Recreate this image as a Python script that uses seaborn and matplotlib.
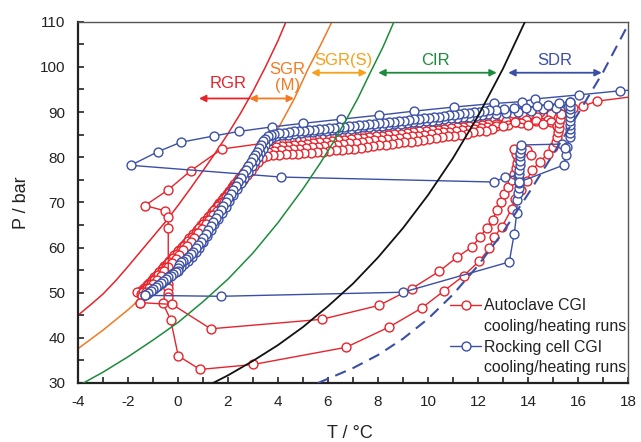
import numpy as np
import pandas as pd
import matplotlib
matplotlib.use("Agg")
import matplotlib.pyplot as plt
import seaborn as sns
from matplotlib.lines import Line2D
from matplotlib.ticker import MultipleLocator

# ---------------- equilibrium / boundary curves ----------------
red_eq_T = [-4.0, -3.5, -3.0, -2.5, -2.0, -1.5, -1.0, -0.5, 0.0, 0.5, 1.0, 1.5, 2.0, 2.5, 3.0, 3.5, 4.0, 4.32]
red_eq_P = [45.0, 47.3, 49.7, 52.6, 55.8, 59.1, 62.4, 65.7, 69.3, 73.1, 77.0, 81.0, 85.2, 89.7, 94.6, 100.0, 105.8, 110.0]

orange_eq_T = [-4.0, -3.0, -2.0, -1.0, 0.0, 1.0, 2.0, 3.0, 4.0, 4.64, 5.2, 5.7, 6.16]
orange_eq_P = [37.6, 41.7, 46.2, 51.3, 56.9, 63.2, 70.1, 77.8, 86.3, 92.8, 99.5, 104.8, 110.0]

green_eq_T = [-3.85, -3.0, -2.0, -1.0, 0.0, 1.0, 2.0, 3.0, 4.0, 5.0, 5.68, 6.2, 6.68, 7.2, 7.68, 8.2, 8.64]
green_eq_P = [29.8, 32.4, 35.8, 39.5, 43.4, 48.0, 53.0, 58.8, 65.5, 73.0, 78.6, 83.2, 87.8, 93.1, 98.6, 104.4, 110.0]

black_eq_T = [1.4, 2.0, 3.0, 4.0, 5.0, 6.0, 7.0, 8.0, 9.0, 10.0, 11.0, 12.0, 13.0, 13.88]
black_eq_P = [30.0, 31.7, 34.9, 38.4, 42.4, 47.0, 52.0, 57.8, 64.3, 71.6, 79.8, 89.1, 99.6, 110.0]

dashed_T = [5.6, 7.0, 8.0, 9.0, 10.0, 11.0, 12.0, 13.0, 14.0, 15.0, 16.0, 17.0, 18.0]
dashed_P = [30.0, 33.3, 36.2, 39.8, 44.2, 49.6, 56.0, 63.4, 71.8, 80.6, 89.6, 98.8, 109.3]

# ---------------- Autoclave CGI runs (red) ----------------
r1_T = [15.25, 14.9, 14.48, 14.08, 13.75, 13.41, 12.95, 12.6,
        12.3, 12.1, 11.9, 11.7, 11.5, 11.3, 11.1, 10.9, 10.7, 10.5, 10.3, 10.1, 9.9, 9.7, 9.5, 9.3, 9.1,
        8.9, 8.7, 8.5, 8.3, 8.1, 7.9, 7.7, 7.5, 7.3, 7.1, 6.9, 6.7, 6.5, 6.3, 6.1, 5.9, 5.7, 5.5, 5.3,
        5.1, 4.9, 4.7, 4.5, 4.3, 4.1, 3.9, 3.7, 3.55,
        3.45, 3.35, 3.25, 3.15, 3.05, 2.95, 2.85, 2.75, 2.65, 2.55, 2.45, 2.35, 2.25, 2.15, 2.05, 1.95,
        1.85, 1.75, 1.65, 1.55, 1.45, 1.35, 1.25, 1.15, 1.05, 0.95, 0.85, 0.75, 0.65, 0.55, 0.45, 0.35,
        0.25, 0.15, 0.05, -0.05, -0.15, -0.25, -0.35, -0.45, -0.55, -0.65, -0.75, -0.85, -0.95, -1.05,
        -1.15, -1.25, -1.35, -1.45, -1.55, -1.65]
r1_P = [89.8, 89.5, 90.0, 89.4, 89.6, 89.7, 89.1, 88.9,
        88.7, 88.6, 88.5, 88.3, 88.2, 88.1, 87.9, 87.8, 87.7, 87.5, 87.4, 87.3, 87.1, 87.0, 86.9, 86.8, 86.6,
        86.5, 86.4, 86.2, 86.1, 86.0, 85.8, 85.7, 85.6, 85.5, 85.3, 85.2, 85.1, 84.9, 84.8, 84.7, 84.6, 84.4, 84.3, 84.2,
        84.0, 83.9, 83.8, 83.7, 83.5, 83.4, 83.2, 83.0, 82.7,
        82.3, 81.7, 81.0, 80.3, 79.6, 78.9, 78.2, 77.5, 76.8, 76.1, 75.4, 74.7, 74.0, 73.3, 72.6, 71.9,
        71.2, 70.5, 69.8, 69.1, 68.4, 67.7, 67.0, 66.3, 65.7, 65.0, 64.4, 63.7, 63.1, 62.4, 61.8, 61.2,
        60.6, 60.0, 59.4, 58.8, 58.2, 57.6, 57.0, 56.4, 55.8, 55.2, 54.6, 54.0, 53.4, 52.8,
        52.2, 51.6, 51.0, 50.5, 50.2, 50.1]

r2_T = [15.2, 14.8, 14.35, 13.9, 13.5, 13.1, 12.7,
        12.4, 12.15, 11.9, 11.65, 11.4, 11.15, 10.9, 10.65, 10.4, 10.15, 9.9, 9.65, 9.4, 9.15, 8.9, 8.65,
        8.4, 8.15, 7.9, 7.65, 7.4, 7.15, 6.9, 6.65, 6.4, 6.15, 5.9, 5.65, 5.4, 5.15, 4.9, 4.65, 4.4, 4.15,
        3.9, 3.65, 3.45,
        3.3, 3.15, 3.0, 2.85, 2.7, 2.55, 2.4, 2.25, 2.1, 1.95, 1.8, 1.65, 1.5, 1.35, 1.2, 1.05, 0.9, 0.75,
        0.6, 0.45, 0.3, 0.15, 0.0, -0.15, -0.3, -0.45, -0.6, -0.75, -0.9, -1.05, -1.2, -1.35, -1.5]
r2_P = [88.6, 88.3, 88.9, 88.2, 87.8, 88.0, 87.4,
        87.3, 87.2, 87.0, 86.9, 86.7, 86.6, 86.4, 86.3, 86.1, 86.0, 85.8, 85.7, 85.5, 85.4, 85.2, 85.1,
        84.9, 84.8, 84.6, 84.5, 84.3, 84.2, 84.0, 83.9, 83.7, 83.6, 83.4, 83.3, 83.1, 83.0, 82.8, 82.7, 82.5, 82.4,
        82.2, 81.9, 81.5,
        80.7, 79.7, 78.7, 77.7, 76.7, 75.7, 74.7, 73.7, 72.7, 71.7, 70.7, 69.7, 68.7, 67.8, 66.8, 65.8, 64.9, 63.9,
        63.0, 62.0, 61.1, 60.1, 59.2, 58.3, 57.3, 56.4, 55.4, 54.5, 53.5, 52.6, 51.6, 50.7, 49.8]

r4_T = [14.9, 14.3, 13.7, 13.2, 12.7,
        12.35, 12.1, 11.85, 11.6, 11.35, 11.1, 10.85, 10.6, 10.35, 10.1, 9.85, 9.6, 9.35, 9.1, 8.85, 8.6,
        8.35, 8.1, 7.85, 7.6, 7.35, 7.1, 6.85, 6.6, 6.35, 6.1, 5.85, 5.6, 5.35, 5.1, 4.85, 4.6, 4.35, 4.1,
        3.85, 3.6, 3.4,
        3.25, 3.1, 2.95, 2.8, 2.65, 2.5, 2.35, 2.2, 2.05, 1.9, 1.75, 1.6, 1.45, 1.3, 1.15, 1.0, 0.85, 0.7,
        0.55, 0.4, 0.25, 0.1, -0.05, -0.2, -0.35, -0.5, -0.65, -0.8, -0.95, -1.1, -1.25, -1.4]
r4_P = [87.9, 88.1, 87.6, 87.2, 86.8,
        86.6, 86.5, 86.3, 86.1, 86.0, 85.8, 85.6, 85.5, 85.3, 85.1, 85.0, 84.8, 84.6, 84.5, 84.3, 84.1,
        84.0, 83.8, 83.7, 83.5, 83.4, 83.2, 83.1, 82.9, 82.8, 82.6, 82.5, 82.3, 82.2, 82.1, 81.9, 81.8, 81.7, 81.6,
        81.4, 81.2, 80.8,
        80.0, 79.1, 78.1, 77.1, 76.1, 75.1, 74.1, 73.1, 72.1, 71.1, 70.1, 69.1, 68.2, 67.2, 66.2, 65.2, 64.3, 63.3,
        62.3, 61.4, 60.4, 59.5, 58.5, 57.6, 56.7, 55.7, 54.8, 53.9, 52.9, 52.0, 51.1, 50.2]

r3_T = [15.15, 14.6, 14.0, 13.48, 13.0, 12.55,
        12.3, 12.05, 11.8, 11.55, 11.3, 11.05, 10.8, 10.55, 10.3, 10.05, 9.8, 9.55, 9.3, 9.05, 8.8, 8.55,
        8.3, 8.05, 7.8, 7.55, 7.3, 7.05, 6.8, 6.55, 6.3, 6.05, 5.8, 5.55, 5.3, 5.05, 4.8, 4.55, 4.3, 4.05,
        3.8, 3.55, 3.35,
        3.2, 3.05, 2.9, 2.75, 2.6, 2.45, 2.3, 2.15, 2.0, 1.85, 1.7, 1.55, 1.4, 1.25, 1.1, 0.95, 0.8, 0.65,
        0.5, 0.35, 0.2, 0.05, -0.1, -0.25, -0.4, -0.55, -0.7, -0.85, -1.0, -1.15, -1.3, -1.45, -1.52]
r3_P = [87.0, 87.4, 87.2, 87.8, 86.8, 86.2,
        85.9, 85.7, 85.5, 85.2, 85.0, 84.8, 84.6, 84.4, 84.2, 84.0, 83.8, 83.6, 83.4, 83.3, 83.1, 82.9,
        82.8, 82.6, 82.4, 82.3, 82.1, 81.9, 81.8, 81.6, 81.5, 81.4, 81.2, 81.1, 81.0, 80.9, 80.8, 80.7, 80.6, 80.5,
        80.4, 80.2, 79.8,
        79.0, 78.0, 77.0, 76.0, 75.0, 74.0, 73.0, 72.0, 71.0, 70.0, 69.0, 68.1, 67.1, 66.1, 65.1, 64.2, 63.2, 62.2,
        61.3, 60.3, 59.4, 58.4, 57.5, 56.6, 55.7, 54.7, 53.8, 52.9, 52.0, 51.1, 50.2, 49.3, 47.8]

h1_T = [3.31, 1.75, 0.51, -0.41, -1.32, -0.51, -0.39, -0.39, -0.39, -0.39, -0.39, -0.39, -0.61, -0.29,
        0.01, 0.88, 3.01, 6.72, 8.45, 9.75, 10.64, 11.44, 12.05, 12.45, 12.64, 12.95, 13.35, 13.48, 13.7,
        13.95, 14.15, 14.48, 14.8, 15.0, 15.1, 15.15, 15.2, 15.22, 15.25, 15.28, 15.3, 15.8, 16.2, 16.75, 18.6]
h1_P = [83.0, 81.8, 77.0, 72.7, 69.3, 68.1, 66.8, 64.3, 52.0, 51.0, 50.0, 49.0, 47.8, 43.9,
        36.0, 33.0, 34.1, 37.9, 42.4, 46.6, 50.4, 53.8, 57.0, 59.8, 62.3, 64.5, 68.6, 70.8, 72.8,
        74.8, 77.1, 79.0, 80.8, 82.2, 83.4, 84.5, 85.5, 86.5, 87.5, 88.5, 89.5, 90.8, 91.3, 92.4, 93.7]

h2_T = [-1.52, -0.23, 1.31, 5.75, 8.05, 9.35, 10.44, 11.15, 11.75, 12.08, 12.35, 12.59, 12.75, 12.9,
        13.05, 13.2, 13.35, 13.45, 13.5, 13.55, 13.6, 13.5, 13.45, 13.7, 13.95, 14.1]
h2_P = [47.8, 47.4, 42.0, 44.1, 47.2, 50.9, 54.7, 57.8, 60.1, 62.3, 64.4, 66.2, 68.2, 70.0,
        71.8, 73.5, 75.0, 76.3, 77.5, 78.7, 79.8, 80.8, 81.8, 82.2, 81.6, 80.5]

# ---------------- Rocking cell CGI runs (blue) ----------------
bs_T = [18.5, 17.68, 16.05, 14.28, 13.77, 12.65, 11.04, 9.44, 8.04, 6.5, 5.01, 3.75, 2.43, 1.43, 0.11,
        -0.81, -1.89, 4.12, 12.65, 13.08, 13.6]
bs_P = [95.0, 94.7, 93.8, 92.9, 92.3, 91.9, 91.1, 90.2, 89.3, 88.4, 87.5, 86.7, 85.7, 84.7, 83.3,
        81.2, 78.2, 75.6, 74.5, 75.6, 75.9]

bd1_T = [15.68, 15.25, 14.8, 14.35, 13.9, 13.45, 13.05, 12.7,
         12.45, 12.25, 12.05, 11.85, 11.65, 11.45, 11.25, 11.05, 10.85, 10.65, 10.45, 10.25, 10.05, 9.85,
         9.65, 9.45, 9.25, 9.05, 8.85, 8.65, 8.45, 8.25, 8.05, 7.85, 7.65, 7.45, 7.25, 7.05, 6.85, 6.65,
         6.45, 6.25, 6.05, 5.85, 5.65, 5.45, 5.25, 5.05, 4.85, 4.65, 4.45, 4.25, 4.05, 3.85, 3.7,
         3.58, 3.48, 3.4, 3.32, 3.24, 3.16, 3.08, 3.0,
         2.9, 2.8, 2.7, 2.6, 2.5, 2.4, 2.3, 2.2, 2.1, 2.0, 1.9, 1.8, 1.7, 1.6, 1.5, 1.4, 1.3, 1.2, 1.1, 1.0,
         0.9, 0.8, 0.7, 0.6, 0.5, 0.4, 0.3, 0.2, 0.1, 0.02, 0.0, -0.02, -0.1, -0.2, -0.3, -0.4, -0.5, -0.6,
         -0.7, -0.8, -0.9, -1.0, -1.1, -1.2, -1.32]
bd1_P = [92.3, 91.9, 91.6, 91.3, 91.0, 90.8, 90.6, 90.5,
         90.4, 90.3, 90.1, 90.0, 89.8, 89.7, 89.5, 89.4, 89.3, 89.1, 89.0, 88.9, 88.7, 88.6,
         88.5, 88.4, 88.2, 88.1, 88.0, 87.9, 87.8, 87.6, 87.5, 87.4, 87.3, 87.2, 87.1, 86.9, 86.8, 86.7,
         86.6, 86.5, 86.4, 86.3, 86.2, 86.1, 86.0, 85.9, 85.8, 85.7, 85.6, 85.4, 85.3, 85.1, 84.9,
         84.6, 84.1, 83.5, 82.8, 82.0, 81.2, 80.5, 79.8,
         79.0, 78.1, 77.2, 76.3, 75.4, 74.6, 73.7, 72.8, 71.9, 71.0, 70.1, 69.2, 68.3, 67.4, 66.5, 65.6, 64.7, 63.8, 62.9, 62.1,
         61.3, 60.5, 59.8, 59.1, 58.5, 57.9, 57.4, 57.0, 56.7, 56.2, 55.5, 54.9, 54.6, 54.2, 53.8, 53.4, 53.0, 52.5,
         52.1, 51.6, 51.2, 50.8, 50.3, 49.9, 49.4]

bd2_T = [15.6, 15.1, 14.6, 14.1, 13.6, 13.1, 12.7,
         12.4, 12.15, 11.9, 11.65, 11.4, 11.15, 10.9, 10.65, 10.4, 10.15, 9.9, 9.65, 9.4, 9.15, 8.9, 8.65,
         8.4, 8.15, 7.9, 7.65, 7.4, 7.15, 6.9, 6.65, 6.4, 6.15, 5.9, 5.65, 5.4, 5.15, 4.9, 4.65, 4.4, 4.15,
         3.9, 3.7,
         3.58, 3.48, 3.38, 3.28, 3.18, 3.08, 2.95, 2.8, 2.65, 2.5, 2.35, 2.2, 2.05, 1.9, 1.75, 1.6, 1.45,
         1.3, 1.15, 1.0, 0.85, 0.7, 0.55, 0.4, 0.25, 0.1, -0.05, -0.2, -0.35, -0.5, -0.65, -0.8, -0.95,
         -1.1, -1.25]
bd2_P = [91.2, 90.9, 90.6, 90.3, 90.0, 89.8, 89.6,
         89.5, 89.3, 89.2, 89.0, 88.9, 88.7, 88.6, 88.4, 88.3, 88.1, 88.0, 87.8, 87.7, 87.6, 87.4, 87.3,
         87.1, 87.0, 86.9, 86.7, 86.6, 86.5, 86.3, 86.2, 86.1, 86.0, 85.8, 85.7, 85.6, 85.5, 85.3, 85.2, 85.0, 84.9,
         84.6, 84.2,
         83.5, 82.7, 81.8, 80.9, 80.0, 79.2, 78.1, 76.8, 75.5, 74.2, 72.9, 71.6, 70.3, 69.0, 67.7, 66.4, 65.1,
         63.8, 62.5, 61.2, 60.0, 58.9, 57.9, 57.0, 56.3, 55.7, 55.0, 54.3, 53.6, 52.9, 52.2, 51.5, 50.9,
         50.3, 49.7]

bh_T = [-1.32, 1.7, 9.0, 13.25, 13.45, 13.55, 13.57, 13.6, 13.62, 13.63, 13.64, 13.65, 13.65, 13.66,
        13.67, 13.68, 13.69, 13.7, 13.72, 15.35, 15.55, 15.68, 15.68, 15.68, 15.68, 15.68, 15.68, 15.68,
        15.68, 15.68, 15.68]
bh_P = [49.4, 49.2, 50.1, 56.8, 63.1, 67.6, 70.5, 72.0, 73.2, 74.2, 75.2, 76.2, 77.2, 78.2,
        79.2, 80.2, 81.0, 81.8, 82.7, 82.9, 82.3, 84.5, 85.4, 86.3, 87.2, 88.1, 89.0, 89.8,
        90.6, 91.4, 92.2]

bx_T = [13.65, 15.45, 15.5, 15.48]
bx_P = [74.5, 78.3, 80.4, 82.0]

# ---------------- annotation labels ----------------
region_labels = ["RGR", "SGR\n(M)", "SGR(S)", "CIR", "SDR"]
legend_labels = ["Autoclave CGI", "cooling/heating runs", "Rocking cell CGI", "cooling/heating runs"]

RED = "#E8232B"
ORANGE = "#F47920"
AMBER = "#F7A11A"
GREEN = "#1C8C3C"
BLUE = "#3B4FA6"
BLACK = "#111111"

sns.set_style("ticks")
plt.rcParams['font.family'] = ['Liberation Sans', 'DejaVu Sans']
plt.rcParams['axes.unicode_minus'] = False

fig = plt.figure(figsize=(6.41, 4.42), dpi=100)
ax = fig.add_axes([78 / 641, 1 - 383 / 442, 550 / 641, 361.3 / 442])


def curve(T, P, color, lw=1.1, z=1, **kw):
    df = pd.DataFrame({"T": T, "P": P})
    sns.lineplot(data=df, x="T", y="P", sort=False, estimator=None, color=color,
                 lw=lw, zorder=z, ax=ax, legend=False, **kw)


def run(T, P, color, z):
    df = pd.DataFrame({"T": T, "P": P})
    sns.lineplot(data=df, x="T", y="P", sort=False, estimator=None, color=color, lw=1.0,
                 marker="o", markersize=6.4, markerfacecolor="white", markeredgecolor=color,
                 markeredgewidth=1.0, zorder=z, ax=ax, legend=False)


curve(red_eq_T, red_eq_P, RED, z=1)
curve(orange_eq_T, orange_eq_P, ORANGE, z=1)

for T, P in [(r1_T, r1_P), (r2_T, r2_P), (r4_T, r4_P), (r3_T, r3_P), (h1_T, h1_P), (h2_T, h2_P)]:
    run(T, P, RED, 2)
for T, P in [(bs_T, bs_P), (bd2_T, bd2_P), (bd1_T, bd1_P), (bh_T, bh_P), (bx_T, bx_P)]:
    run(T, P, BLUE, 3)

curve(green_eq_T, green_eq_P, GREEN, z=4)
curve(black_eq_T, black_eq_P, BLACK, lw=1.3, z=4)
curve(dashed_T, dashed_P, BLUE, lw=1.5, z=4, linestyle=(0, (5.5, 3.5)))

# region annotations
fs = 12
ax.text(1.99, 96.3, region_labels[0], color=RED, fontsize=fs, ha="center", va="center")
ax.text(4.38, 97.6, region_labels[1], color=ORANGE, fontsize=fs, ha="center", va="center", linespacing=1.1)
ax.text(6.6, 101.5, region_labels[2], color=AMBER, fontsize=fs, ha="center", va="center")
ax.text(10.28, 101.5, region_labels[3], color=GREEN, fontsize=fs, ha="center", va="center")
ax.text(15.06, 101.5, region_labels[4], color=BLUE, fontsize=fs, ha="center", va="center")


def arrow(x0, x1, y, color, style):
    ax.annotate("", xy=(x1, y), xytext=(x0, y),
                arrowprops=dict(arrowstyle=style, color=color, lw=1.3, mutation_scale=10,
                                shrinkA=0, shrinkB=0), zorder=5)


arrow(2.85, 0.84, 93.0, RED, "-|>")
arrow(2.85, 4.64, 93.0, ORANGE, "<|-|>")
arrow(5.33, 7.56, 98.7, AMBER, "<|-|>")
arrow(8.01, 12.75, 98.7, GREEN, "<|-|>")
arrow(13.21, 16.95, 98.7, BLUE, "<|-|>")

# axes
ax.set_xlim(-4, 18)
ax.set_ylim(30, 110)
ax.xaxis.set_major_locator(MultipleLocator(2))
ax.xaxis.set_minor_locator(MultipleLocator(1))
ax.yaxis.set_major_locator(MultipleLocator(10))
ax.yaxis.set_minor_locator(MultipleLocator(5))
ax.tick_params(which="both", direction="in", length=4, width=1.2, color="#222222",
               top=False, right=False)
ax.tick_params(which="major", labelsize=11, pad=9, labelcolor="#222222")
for s in ["left", "bottom"]:
    ax.spines[s].set_linewidth(1.6)
    ax.spines[s].set_color("#222222")
for s in ["top", "right"]:
    ax.spines[s].set_linewidth(1.0)
    ax.spines[s].set_color("#555555")

ax.set_xlabel("T / °C", fontsize=13, color="#222222")
ax.set_ylabel("P / bar", fontsize=13, color="#222222")
ax.xaxis.set_label_coords(0.494, -0.115)
ax.yaxis.set_label_coords(-0.088, 0.5)

# legend
handles = [
    Line2D([], [], color=RED, lw=1.0, marker="o", markersize=6.4, markerfacecolor="white",
           markeredgecolor=RED, markeredgewidth=1.0),
    Line2D([], [], color="none"),
    Line2D([], [], color=BLUE, lw=1.0, marker="o", markersize=6.4, markerfacecolor="white",
           markeredgecolor=BLUE, markeredgewidth=1.0),
    Line2D([], [], color="none"),
]
leg = ax.legend(handles, legend_labels, loc="upper left", bbox_to_anchor=(0.676, 0.234),
                frameon=False, fontsize=11.4, handlelength=2.0, handletextpad=0.15,
                labelspacing=0.35, borderpad=0, borderaxespad=0, numpoints=1)
for t in leg.get_texts():
    t.set_color("#222222")

fig.savefig("out.png", dpi=100)
